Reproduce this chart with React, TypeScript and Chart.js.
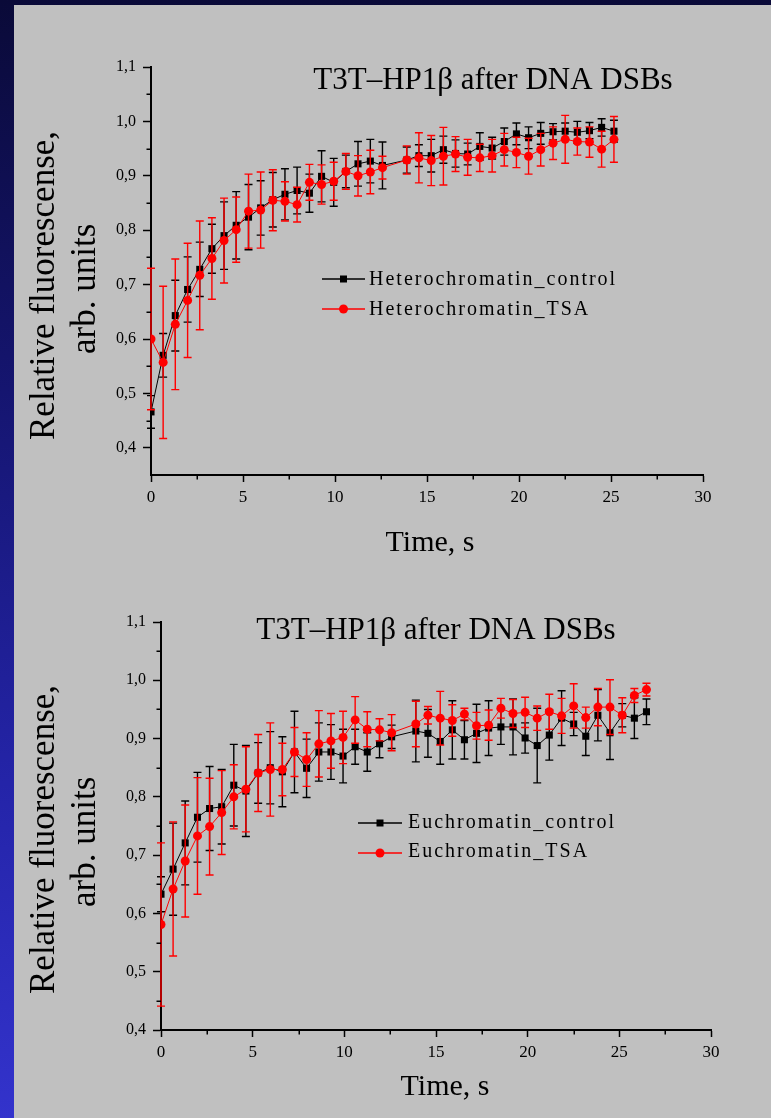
import React, { useEffect, useRef } from 'react';
import { Chart, registerables } from 'chart.js';

Chart.register(...registerables);

const FONT = "'Liberation Serif', 'Times New Roman', serif";

// ---------- DATA ----------
const heteroTime = [0, 0.66, 1.32, 1.99, 2.65, 3.31, 3.97, 4.63, 5.3, 5.96, 6.62, 7.28, 7.94, 8.61, 9.27, 9.93, 10.59, 11.25, 11.92, 12.58, 13.9, 14.56, 15.23, 15.89, 16.55, 17.21, 17.87, 18.54, 19.2, 19.86, 20.52, 21.18, 21.85, 22.51, 23.17, 23.83, 24.49, 25.16];
const heteroControl = [0.466, 0.57, 0.643, 0.691, 0.728, 0.766, 0.79, 0.809, 0.824, 0.841, 0.856, 0.866, 0.873, 0.868, 0.899, 0.888, 0.908, 0.922, 0.927, 0.919, 0.929, 0.937, 0.937, 0.948, 0.941, 0.94, 0.954, 0.951, 0.963, 0.977, 0.97, 0.978, 0.981, 0.982, 0.98, 0.983, 0.989, 0.982];
const heteroControlErr = [0.03, 0.04, 0.065, 0.06, 0.05, 0.045, 0.062, 0.062, 0.06, 0.05, 0.05, 0.047, 0.043, 0.035, 0.047, 0.044, 0.03, 0.041, 0.04, 0.043, 0.024, 0.02, 0.03, 0.025, 0.025, 0.02, 0.025, 0.02, 0.025, 0.02, 0.02, 0.02, 0.015, 0.015, 0.02, 0.015, 0.016, 0.02];
const heteroTSA = [0.6, 0.557, 0.627, 0.671, 0.717, 0.748, 0.781, 0.801, 0.835, 0.837, 0.855, 0.853, 0.847, 0.888, 0.884, 0.89, 0.908, 0.9, 0.907, 0.915, 0.929, 0.933, 0.928, 0.936, 0.94, 0.934, 0.933, 0.937, 0.948, 0.943, 0.936, 0.948, 0.96, 0.967, 0.963, 0.962, 0.949, 0.967];
const heteroTSAErr = [0.13, 0.14, 0.12, 0.105, 0.1, 0.075, 0.078, 0.06, 0.068, 0.07, 0.056, 0.036, 0.032, 0.033, 0.036, 0.035, 0.033, 0.037, 0.04, 0.021, 0.026, 0.046, 0.046, 0.053, 0.032, 0.033, 0.025, 0.03, 0.03, 0.028, 0.033, 0.03, 0.03, 0.044, 0.025, 0.028, 0.033, 0.042];

const euchroTime = [0, 0.66, 1.32, 1.99, 2.65, 3.31, 3.97, 4.63, 5.3, 5.96, 6.62, 7.28, 7.94, 8.61, 9.27, 9.93, 10.59, 11.25, 11.92, 12.58, 13.9, 14.56, 15.23, 15.89, 16.55, 17.21, 17.87, 18.54, 19.2, 19.86, 20.52, 21.18, 21.85, 22.51, 23.17, 23.83, 24.49, 25.16, 25.82, 26.48];
const euchroControl = [0.633, 0.676, 0.721, 0.765, 0.78, 0.783, 0.82, 0.81, 0.841, 0.85, 0.843, 0.877, 0.849, 0.877, 0.877, 0.87, 0.886, 0.877, 0.891, 0.903, 0.913, 0.909, 0.895, 0.915, 0.898, 0.909, 0.918, 0.92, 0.92, 0.901, 0.888, 0.906, 0.935, 0.925, 0.904, 0.94, 0.91, 0.94, 0.935, 0.946];
const euchroControlErr = [0.03, 0.079, 0.072, 0.077, 0.072, 0.064, 0.07, 0.078, 0.052, 0.062, 0.06, 0.07, 0.05, 0.05, 0.047, 0.046, 0.03, 0.033, 0.024, 0.02, 0.053, 0.041, 0.039, 0.05, 0.033, 0.05, 0.047, 0.03, 0.048, 0.026, 0.064, 0.043, 0.047, 0.02, 0.033, 0.044, 0.046, 0.02, 0.035, 0.022];
const euchroTSA = [0.581, 0.642, 0.69, 0.733, 0.749, 0.773, 0.8, 0.813, 0.841, 0.847, 0.847, 0.877, 0.864, 0.891, 0.896, 0.902, 0.932, 0.916, 0.915, 0.91, 0.925, 0.94, 0.935, 0.931, 0.942, 0.922, 0.923, 0.952, 0.943, 0.945, 0.935, 0.946, 0.939, 0.956, 0.936, 0.954, 0.954, 0.94, 0.974, 0.984];
const euchroTSAErr = [0.14, 0.115, 0.096, 0.1, 0.083, 0.072, 0.055, 0.073, 0.066, 0.08, 0.045, 0.042, 0.046, 0.057, 0.047, 0.045, 0.04, 0.03, 0.019, 0.031, 0.039, 0.015, 0.046, 0.027, 0.01, 0.023, 0.026, 0.017, 0.024, 0.026, 0.021, 0.03, 0.03, 0.038, 0.018, 0.032, 0.047, 0.03, 0.012, 0.011];

const xTicks = [0, 5, 10, 15, 20, 25, 30];
const xMinorTicks = [2.5, 7.5, 12.5, 17.5, 22.5, 27.5];
const yTicks = [0.4, 0.5, 0.6, 0.7, 0.8, 0.9, 1.0, 1.1];
const yMinorTicks = [0.45, 0.55, 0.65, 0.75, 0.85, 0.95, 1.05];

const chartTitle = 'T3T–HP1β after DNA DSBs';
const yTitleLines = ['Relative fluorescense,', 'arb. units'];
const xTitle = 'Time, s';
const heteroLabels = ['Heterochromatin_control', 'Heterochromatin_TSA'];
const euchroLabels = ['Euchromatin_control', 'Euchromatin_TSA'];

// ---------- LAYOUT (page coordinates) ----------
type Layout = {
  box: { left: number; top: number; width: number; height: number };
  area: { left: number; top: number; right: number; bottom: number };
  yMin: number;
  title: { x: number; y: number };
  yTitle: { x1: number; x2: number; start1: number; start2: number };
  xTitle: { x: number; y: number };
  legend: { l0: number; l1: number; textX: number; rows: number[]; base: number[] };
};

const topLayout: Layout = {
  box: { left: 14, top: 5, width: 757, height: 555 },
  area: { left: 151, top: 67, right: 703, bottom: 475 },
  yMin: 0.35,
  title: { x: 493, y: 89 },
  yTitle: { x1: 54, x2: 95, start1: 440, start2: 354 },
  xTitle: { x: 430, y: 551 },
  legend: { l0: 322, l1: 365, textX: 369, rows: [279, 309], base: [285, 315] },
};

const bottomLayout: Layout = {
  box: { left: 14, top: 560, width: 757, height: 558 },
  area: { left: 161, top: 622, right: 711, bottom: 1030 },
  yMin: 0.4,
  title: { x: 436, y: 639 },
  yTitle: { x1: 54, x2: 95, start1: 994, start2: 907 },
  xTitle: { x: 445, y: 1095 },
  legend: { l0: 358, l1: 402, textX: 408, rows: [823, 853], base: [828, 857] },
};

const errorBarPlugin = {
  id: 'errorBars',
  beforeDatasetDraw(chart: any, args: any) {
    const ds: any = chart.data.datasets[args.index];
    if (!ds.errors) return;
    const yScale = chart.scales.y;
    const ctx = chart.ctx;
    ctx.save();
    ctx.strokeStyle = ds.borderColor;
    ctx.lineWidth = 1.4;
    args.meta.data.forEach((el: any, i: number) => {
      const v = ds.data[i].y;
      const e = ds.errors[i];
      const x = el.x;
      const y1 = yScale.getPixelForValue(v + e);
      const y2 = yScale.getPixelForValue(v - e);
      ctx.beginPath();
      ctx.moveTo(x, y1);
      ctx.lineTo(x, y2);
      ctx.moveTo(x - 4, y1);
      ctx.lineTo(x + 4, y1);
      ctx.moveTo(x - 4, y2);
      ctx.lineTo(x + 4, y2);
      ctx.stroke();
    });
    ctx.restore();
  },
};

function makeDecorPlugin(L: Layout, labels: string[]) {
  const ox = L.box.left;
  const oy = L.box.top;
  return {
    id: 'decor',
    afterDraw(chart: any) {
      const ctx = chart.ctx;
      const xs = chart.scales.x;
      const ys = chart.scales.y;
      const ca = chart.chartArea;
      ctx.save();
      // minor ticks
      ctx.strokeStyle = '#000';
      ctx.lineWidth = 1.5;
      ctx.beginPath();
      xMinorTicks.forEach((v) => {
        const px = Math.round(xs.getPixelForValue(v)) + 0.25;
        ctx.moveTo(px, ca.bottom);
        ctx.lineTo(px, ca.bottom + 4.5);
      });
      yMinorTicks.forEach((v) => {
        if (v < ys.min) return;
        const py = Math.round(ys.getPixelForValue(v)) + 0.25;
        ctx.moveTo(ca.left - 4.5, py);
        ctx.lineTo(ca.left, py);
      });
      ctx.stroke();

      ctx.fillStyle = '#000';
      // chart title
      ctx.font = `31px ${FONT}`;
      ctx.textAlign = 'center';
      ctx.textBaseline = 'alphabetic';
      ctx.fillText(chartTitle, L.title.x - ox, L.title.y - oy);
      // x title
      ctx.font = `30px ${FONT}`;
      ctx.fillText(xTitle, L.xTitle.x - ox, L.xTitle.y - oy);
      // y title (two rotated lines, starting from the bottom)
      ctx.font = `35px ${FONT}`;
      const ySpecs = [
        { bx: L.yTitle.x1, start: L.yTitle.start1 },
        { bx: L.yTitle.x2, start: L.yTitle.start2 },
      ];
      ySpecs.forEach((s, i) => {
        ctx.save();
        ctx.translate(s.bx - ox, s.start - oy);
        ctx.rotate(-Math.PI / 2);
        ctx.textAlign = 'left';
        ctx.fillText(yTitleLines[i], 0, 0);
        ctx.restore();
      });
      // legend
      const colors = ['#000000', '#ff0000'];
      chart.data.datasets.forEach((ds: any, i: number) => {
        const cy = L.legend.rows[i] - oy;
        const x0 = L.legend.l0 - ox;
        const x1 = L.legend.l1 - ox;
        ctx.strokeStyle = colors[i];
        ctx.fillStyle = colors[i];
        ctx.lineWidth = 1.3;
        ctx.beginPath();
        ctx.moveTo(x0, cy);
        ctx.lineTo(x1, cy);
        ctx.stroke();
        const mx = (x0 + x1) / 2;
        if (i === 0) {
          ctx.fillRect(mx - 3.5, cy - 3.5, 7, 7);
        } else {
          ctx.beginPath();
          ctx.arc(mx, cy, 4.5, 0, Math.PI * 2);
          ctx.fill();
        }
        ctx.fillStyle = '#000';
        ctx.font = `20px ${FONT}`;
        (ctx as any).letterSpacing = '2px';
        ctx.textAlign = 'left';
        ctx.fillText(labels[i], L.legend.textX - ox, L.legend.base[i] - oy);
        (ctx as any).letterSpacing = '0px';
      });
      ctx.restore();
    },
  };
}

function buildConfig(
  L: Layout,
  time: number[],
  control: number[],
  controlErr: number[],
  tsa: number[],
  tsaErr: number[],
  labels: string[]
): any {
  const grid = {
    display: true,
    drawOnChartArea: false,
    drawTicks: true,
    color: '#000',
    tickColor: '#000',
    tickWidth: 1.5,
  };
  return {
    type: 'line',
    data: {
      datasets: [
        {
          label: labels[0],
          data: time.map((t, i) => ({ x: t, y: control[i] })),
          errors: controlErr,
          borderColor: '#000000',
          backgroundColor: '#000000',
          borderWidth: 1,
          pointStyle: 'rect',
          pointRadius: 5,
          pointBorderWidth: 0,
          tension: 0,
          order: 2,
        },
        {
          label: labels[1],
          data: time.map((t, i) => ({ x: t, y: tsa[i] })),
          errors: tsaErr,
          borderColor: '#ff0000',
          backgroundColor: '#ff0000',
          borderWidth: 1,
          pointStyle: 'circle',
          pointRadius: 4.5,
          pointBorderWidth: 0,
          tension: 0,
          order: 1,
        },
      ],
    },
    options: {
      responsive: false,
      maintainAspectRatio: false,
      animation: false,
      devicePixelRatio: 1,
      layout: {
        padding: {
          left: 0,
          top: L.area.top - L.box.top,
          right: L.box.left + L.box.width - L.area.right,
          bottom: 0,
        },
      },
      plugins: {
        legend: { display: false },
        tooltip: { enabled: false },
        title: { display: false },
      },
      scales: {
        x: {
          type: 'linear',
          min: 0,
          max: 30,
          afterBuildTicks: (s: any) => {
            s.ticks = xTicks.map((v) => ({ value: v }));
          },
          afterFit: (s: any) => {
            s.height = L.box.top + L.box.height - L.area.bottom;
          },
          ticks: {
            color: '#000',
            font: { family: FONT, size: 17 },
            padding: 5,
            maxRotation: 0,
            callback: (v: any) => String(v),
          },
          grid: { ...grid, tickLength: 7 },
          border: { display: true, color: '#000', width: 2 },
        },
        y: {
          type: 'linear',
          min: L.yMin,
          max: 1.1,
          afterBuildTicks: (s: any) => {
            s.ticks = yTicks.map((v) => ({ value: v }));
          },
          afterFit: (s: any) => {
            s.width = L.area.left - L.box.left;
          },
          ticks: {
            color: '#000',
            font: { family: FONT, size: 16 },
            padding: 7,
            callback: (v: any) => Number(v).toFixed(1).replace('.', ','),
          },
          grid: { ...grid, tickLength: 8 },
          border: { display: true, color: '#000', width: 2 },
        },
      },
    },
    plugins: [errorBarPlugin, makeDecorPlugin(L, labels)],
  };
}

function ChartPanel(props: {
  L: Layout;
  time: number[];
  control: number[];
  controlErr: number[];
  tsa: number[];
  tsaErr: number[];
  labels: string[];
}) {
  const ref = useRef<HTMLCanvasElement | null>(null);
  const { L } = props;
  useEffect(() => {
    if (!ref.current) return;
    const chart = new Chart(
      ref.current,
      buildConfig(L, props.time, props.control, props.controlErr, props.tsa, props.tsaErr, props.labels)
    );
    return () => chart.destroy();
  }, []);
  return (
    <canvas
      ref={ref}
      width={L.box.width}
      height={L.box.height}
      style={{
        position: 'absolute',
        left: L.box.left,
        top: L.box.top,
        width: L.box.width,
        height: L.box.height,
        display: 'block',
      }}
    />
  );
}

export default function App() {
  return (
    <div
      style={{
        position: 'absolute',
        left: 0,
        top: 0,
        width: 771,
        height: 1118,
        overflow: 'hidden',
        background: 'linear-gradient(180deg, #0a0a38 0%, #151570 35%, #2424a8 70%, #3333cc 100%)',
      }}
    >
      <div
        style={{
          position: 'absolute',
          left: 14,
          top: 5,
          width: 757,
          height: 1113,
          background: '#c0c0c0',
        }}
      />
      <ChartPanel
        L={topLayout}
        time={heteroTime}
        control={heteroControl}
        controlErr={heteroControlErr}
        tsa={heteroTSA}
        tsaErr={heteroTSAErr}
        labels={heteroLabels}
      />
      <ChartPanel
        L={bottomLayout}
        time={euchroTime}
        control={euchroControl}
        controlErr={euchroControlErr}
        tsa={euchroTSA}
        tsaErr={euchroTSAErr}
        labels={euchroLabels}
      />
    </div>
  );
}
